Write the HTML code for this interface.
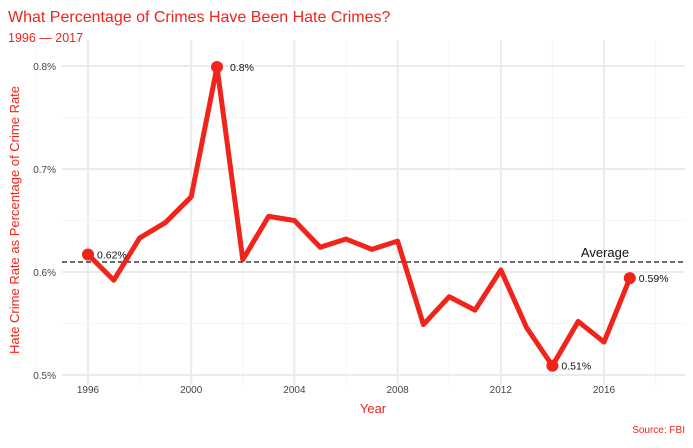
<!DOCTYPE html>
<html><head><meta charset="utf-8"><style>
body{margin:0;background:#fff;font-family:"Liberation Sans",sans-serif}
svg text{font-family:"Liberation Sans",sans-serif}
</style></head><body>
<svg id="chart" width="693" height="443" viewBox="0 0 693 443" xmlns="http://www.w3.org/2000/svg">
<rect width="693" height="443" fill="#fff"/>
<text x="8" y="22" font-size="16" fill="#f0241a">What Percentage of Crimes Have Been Hate Crimes?</text>
<text x="8" y="42" font-size="12.5" fill="#f0241a">1996 — 2017</text>
<g id="grid"></g>
<g id="axes"></g>
<g id="marks"></g>
<text x="373" y="413" font-size="13" fill="#f0241a" text-anchor="middle">Year</text>
<text transform="translate(19,220) rotate(-90)" font-size="13" fill="#f0241a" text-anchor="middle">Hate Crime Rate as Percentage of Crime Rate</text>
<text x="685" y="433" font-size="10" fill="#f0241a" text-anchor="end">Source: FBI</text>
</svg>
<script>
const years=[1996,1997,1998,1999,2000,2001,2002,2003,2004,2005,2006,2007,2008,2009,2010,2011,2012,2013,2014,2015,2016,2017];
const rates=[0.617,0.592,0.633,0.648,0.673,0.799,0.612,0.654,0.650,0.624,0.632,0.622,0.630,0.549,0.576,0.563,0.602,0.546,0.509,0.552,0.532,0.594];
const xTicks=[1996,2000,2004,2008,2012,2016];
const yTicks=[0.5,0.6,0.7,0.8];
const yTickLabels=["0.5%","0.6%","0.7%","0.8%"];
const labelled=[{year:1996,text:"0.62%"},{year:2001,text:"0.8%"},{year:2014,text:"0.51%"},{year:2017,text:"0.59%"}];
const average=0.6097;
const NS="http://www.w3.org/2000/svg";
const x=v=>88+(v-1996)*(604-88)/20;
const y=v=>375-(v-0.5)*1030;
function mk(tag,attrs,parent){const e=document.createElementNS(NS,tag);for(const k in attrs)e.setAttribute(k,attrs[k]);parent.appendChild(e);return e;}
const grid=document.getElementById('grid'),axes=document.getElementById('axes'),marks=document.getElementById('marks');
for(let yr=1994;yr<=2018;yr+=2){const major=(yr-1996)%4===0;const l=mk('line',{x1:x(yr),x2:x(yr),y1:40,y2:385,stroke:major?'#ebebeb':'#f4f4f4','stroke-width':major?2:1},grid);

}
for(let v=0.45;v<=0.85;v+=0.05){const major=Math.abs(v*10-Math.round(v*10))<0.01;const yy=y(v);if(yy<40||yy>385)continue;const l=mk('line',{x1:62,x2:685,y1:yy,y2:yy,stroke:major?'#ebebeb':'#f4f4f4','stroke-width':major?2:1},grid);

}
xTicks.forEach(t=>{const e=mk('text',{x:x(t),y:393,'font-size':10,fill:'#444','text-anchor':'middle'},axes);e.textContent=t;

});
yTicks.forEach((t,i)=>{const e=mk('text',{x:56,y:y(t)+4,'font-size':10,fill:'#444','text-anchor':'end'},axes);e.textContent=yTickLabels[i];

});
const avg=mk('line',{x1:62,x2:685,y1:y(average),y2:y(average),stroke:'#111','stroke-width':1.3,'stroke-dasharray':'5,3'},marks);


const at=mk('text',{x:605,y:y(average)-5,'font-size':13,fill:'#111','text-anchor':'middle'},marks);at.textContent='Average';


const p=mk('polyline',{points:years.map((yr,i)=>x(yr)+','+y(rates[i])).join(' '),fill:'none',stroke:'#f0241a','stroke-width':5,'stroke-linejoin':'round'},marks);


labelled.forEach(o=>{const i=years.indexOf(o.year);const cx=x(o.year),cy=y(rates[i]);
const c=mk('circle',{cx:cx,cy:cy,r:6,fill:'#f0241a'},marks);


const t=mk('text',{x:cx+(o.year===2001?13:9),y:cy+4,'font-size':10.5,fill:'#111'},marks);t.textContent=o.text;

});
</script>
</body></html>
